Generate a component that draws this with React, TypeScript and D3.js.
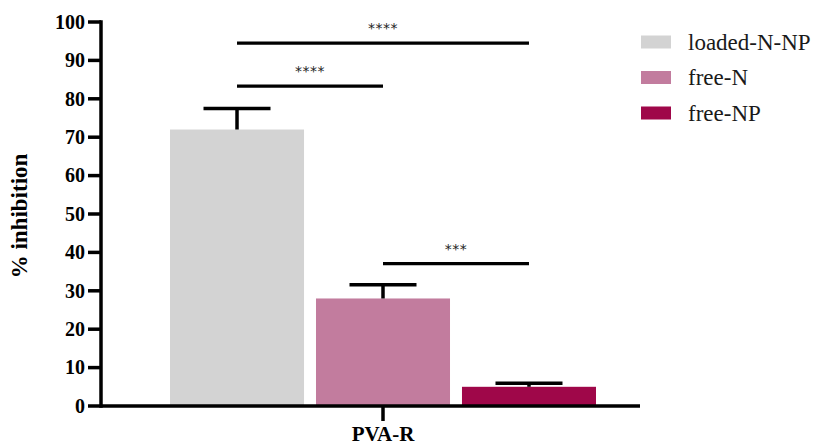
import React from 'react';
import * as d3 from 'd3';

// data
const groups = ['loaded-N-NP', 'free-N', 'free-NP'];
const means = [72, 28, 5];
const errors = [5.5, 3.6, 0.9];
const colors = ['#d3d3d3', '#c27c9e', '#9f0749'];
const category = 'PVA-R';
const yTicks = [0, 10, 20, 30, 40, 50, 60, 70, 80, 90, 100];
// significance brackets: [from group, to group, label, level in % units]
const sigFrom = [0, 0, 1];
const sigTo = [2, 1, 2];
const sigLabels = ['****', '****', '***'];
const sigLevels = [94.5, 83.3, 37.1];

const W = 814;
const H = 446;
const serif = "'Liberation Serif', 'Times New Roman', Tinos, 'DejaVu Serif', serif";

const App = () => {
    const axisX = 101;
    const y = d3.scaleLinear().domain([0, 100]).range([406, 22]);
    const x = d3.scaleBand().domain(groups).range([170, 596]).paddingInner(0.082).paddingOuter(0);
    const bw = x.bandwidth();
    const cx = (i) => x(groups[i]) + bw / 2;
    const midX = (x(groups[0]) + x(groups[2]) + bw) / 2;

    return (
        <div style={{ position: 'absolute', left: 0, top: 0 }}>
            <svg width={W} height={H} style={{ display: 'block', background: '#fff' }}>
                {/* bars */}
                <g>
                    {groups.map((g, i) => (
                        <rect key={g} x={x(g)} y={y(means[i])} width={bw}
                            height={y(0) - y(means[i])} fill={colors[i]} />
                    ))}
                </g>
                {/* error bars */}
                <g stroke="#000" strokeWidth="3.5">
                    {groups.map((g, i) => (
                        <g key={g}>
                            <line x1={cx(i)} x2={cx(i)} y1={y(means[i])} y2={y(means[i] + errors[i])} />
                            <line x1={cx(i) - bw / 4} x2={cx(i) + bw / 4}
                                y1={y(means[i] + errors[i])} y2={y(means[i] + errors[i])} />
                        </g>
                    ))}
                </g>
                {/* significance */}
                <g>
                    {sigLabels.map((s, i) => {
                        const x1 = cx(sigFrom[i]);
                        const x2 = cx(sigTo[i]);
                        const ly = y(sigLevels[i]);
                        return (
                            <g key={i}>
                                <line x1={x1} x2={x2} y1={ly} y2={ly} stroke="#000" strokeWidth="3.2" />
                                <text x={(x1 + x2) / 2} y={ly - 10} textAnchor="middle"
                                    style={{ fontFamily: "'DejaVu Sans', sans-serif" }}
                                    fontSize="14" fill="#222" letterSpacing="0.5">{s}</text>
                            </g>
                        );
                    })}
                </g>
                {/* y axis */}
                <g style={{ fontFamily: serif }} fontWeight="bold" fontSize="20" fill="#000">
                    <line x1={axisX} x2={axisX} y1={y(100) - 1.75} y2={y(0) + 1.75} stroke="#000" strokeWidth="3.5" />
                    {yTicks.map(t => (
                        <g key={t}>
                            <line x1={axisX - 13} x2={axisX} y1={y(t)} y2={y(t)} stroke="#000" strokeWidth="3.5" />
                            <text x={axisX - 16} y={y(t)} dy="0.34em" textAnchor="end">{t}</text>
                        </g>
                    ))}
                </g>
                {/* x axis */}
                <g>
                    <line x1={axisX} x2={640} y1={y(0)} y2={y(0)} stroke="#000" strokeWidth="3.5" />
                    <line x1={midX} x2={midX} y1={y(0)} y2={y(0) + 15} stroke="#000" strokeWidth="3.5" />
                    <text x={midX} y={y(0) + 35} textAnchor="middle" style={{ fontFamily: serif }}
                        fontWeight="bold" fontSize="21">{category}</text>
                </g>
                {/* y label */}
                <text transform={`translate(27, ${y(50) + 2}) rotate(-90)`} textAnchor="middle"
                    style={{ fontFamily: serif }} fontWeight="bold" fontSize="23">% inhibition</text>
                {/* legend */}
                <g style={{ fontFamily: serif }} fontSize="23" fill="#1a1a1a">
                    {groups.map((g, i) => (
                        <g key={g} transform={`translate(641, ${42 + i * 35.5})`}>
                            <rect x="0" y="-6.5" width="30" height="13" fill={colors[i]} />
                            <text x="47" y="0" dy="0.33em">{g}</text>
                        </g>
                    ))}
                </g>
            </svg>
        </div>
    );
};

export default App;
